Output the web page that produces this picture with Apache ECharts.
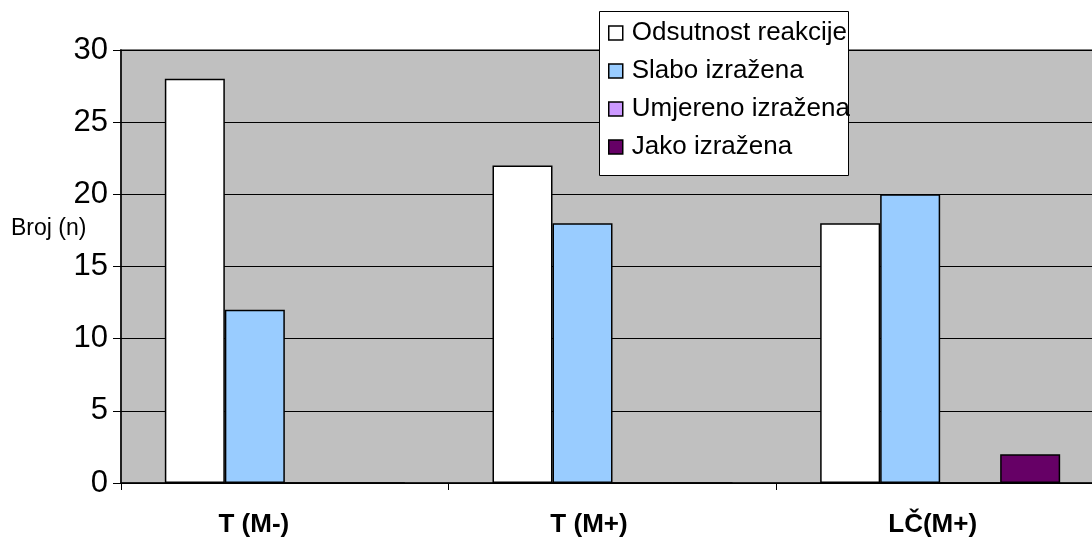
<!DOCTYPE html>
<html><head><meta charset="utf-8">
<script src="https://cdn.jsdelivr.net/npm/echarts@6/dist/echarts.min.js"></script>
<style>html,body{margin:0;padding:0;background:#fff}#c{width:1092px;height:537px}</style>
</head><body><div id="c"></div>
<script>
const categories = ['T (M-)', 'T (M+)', 'LČ(M+)'];
const seriesNames = ['Odsutnost reakcije', 'Slabo izražena', 'Umjereno izražena', 'Jako izražena'];
const odsutnost = [28, 22, 18];
const slabo = [12, 18, 20];
const umjereno = [0, 0, 0];
const jako = [0, 0, 2];
const yAxisTitle = 'Broj (n)';
const colors = ['#ffffff', '#99ccff', '#cc99ff', '#660066'];
const values = [odsutnost, slabo, umjereno, jako];
const labelShift = [62, 47, 15];

const chart = echarts.init(document.getElementById('c'));
const font = 'Liberation Sans, Arial, sans-serif';
chart.setOption({
  animation: false,
  textStyle: {fontFamily: font},
  grid: {left: 121, top: 50, width: 983, height: 433, outerBoundsMode: 'none', containLabel: false,
         show: true, backgroundColor: '#c0c0c0', borderColor: '#808080', borderWidth: 2},
  graphic: [{
    type: 'rect', z: 3, left: 599, top: 11,
    shape: {width: 249, height: 164},
    style: {fill: '#ffffff', stroke: '#000000', lineWidth: 1}
  }, {
    type: 'text', z: 3, x: 11, y: 229,
    style: {text: yAxisTitle, font: '23px ' + font, fill: '#000', align: 'left', verticalAlign: 'middle'}
  }],
  legend: {
    orient: 'vertical', left: 599, top: 11, padding: [9, 6, 9, 9],
    itemWidth: 14, itemHeight: 14, itemGap: 12, z: 5, icon: 'rect',
    textStyle: {fontFamily: font, fontSize: 26, color: '#000', padding: [0, 0, 0, 4]},
    data: seriesNames.map((n, i) => ({name: n, itemStyle: {color: colors[i], borderColor: '#000', borderWidth: 1.5}})),
    selectedMode: false
  },
  xAxis: {
    type: 'category',
    data: categories.map((c, i) => ({value: c, textStyle: {padding: [0, labelShift[i], 0, 0]}})),
    axisLine: {lineStyle: {color: '#000', width: 1.5}},
    axisTick: {show: true, length: 7, lineStyle: {color: '#000'}},
    axisLabel: {fontFamily: font, fontSize: 26, fontWeight: 'bold', color: '#000', margin: 29}
  },
  yAxis: {
    type: 'value', min: 0, max: 30, interval: 5,
    axisLine: {show: true, lineStyle: {color: '#000', width: 1.5}},
    axisTick: {show: true, length: 8, lineStyle: {color: '#000'}},
    axisLabel: {fontFamily: font, fontSize: 31, color: '#000', margin: 13},
    splitLine: {show: true, lineStyle: {color: '#000', width: 1}}
  },
  series: seriesNames.map((n, i) => ({
    name: n, type: 'bar', data: values[i], barWidth: 60, barGap: '0%',
    itemStyle: {color: colors[i], borderColor: '#000', borderWidth: 1.5}
  }))
});
</script></body></html>
